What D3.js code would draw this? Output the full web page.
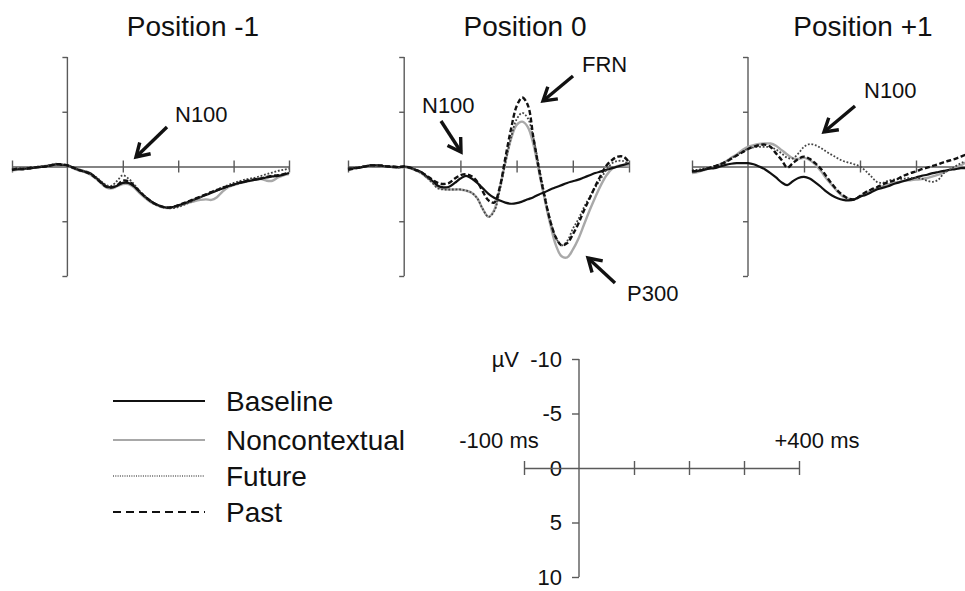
<!DOCTYPE html>
<html><head><meta charset="utf-8">
<script src="https://cdn.jsdelivr.net/npm/d3@7"></script>
<style>html,body{margin:0;padding:0;background:#fff;}svg{display:block;font-family:Arial,"Liberation Sans",sans-serif;}</style>
</head><body><svg id="c" width="965" height="591"></svg>
<script>
// ---- data (µV, negative plotted up) ----
const times = [-100,-90,-80,-70,-60,-50,-40,-30,-20,-10,0,10,20,30,40,50,60,70,80,90,100,110,120,130,140,150,160,170,180,190,200,210,220,230,240,250,260,270,280,290,300,310,320,330,340,350,360,370,380,390,400];
const seriesNames = ["Baseline","Noncontextual","Future","Past"];
const panelTitles = ["Position -1","Position 0","Position +1"];
const yTicks = [-10,-5,0,5,10];
const xTicks = [-100,100,200,300,400];

// Position -1
const baseline1 = [0.3,0.25,0.2,0.2,0.1,0.05,0,-0.1,-0.2,-0.15,-0.1,0.1,0.3,0.45,0.6,0.95,1.4,1.8,1.9,1.75,1.5,1.5,1.8,2.3,2.75,3.15,3.45,3.65,3.75,3.7,3.55,3.4,3.2,3.0,2.8,2.6,2.4,2.2,2.0,1.8,1.65,1.5,1.4,1.3,1.2,1.1,1.0,0.9,0.85,0.75,0.6];
const noncontextual1 = [0.35,0.3,0.2,0.15,0.1,0.0,-0.05,-0.1,-0.2,-0.15,-0.1,0.15,0.35,0.5,0.7,1.05,1.5,1.9,2.0,1.8,1.6,1.6,1.9,2.4,2.85,3.25,3.5,3.7,3.8,3.75,3.6,3.45,3.3,3.15,3.05,3.0,3.05,2.8,2.3,1.9,1.7,1.55,1.4,1.3,1.2,1.15,1.3,1.3,1.0,0.8,0.7];
const future1 = [0.25,0.2,0.2,0.1,0.05,0.0,-0.05,-0.15,-0.25,-0.2,-0.1,0.05,0.25,0.4,0.55,0.9,1.3,1.7,1.75,1.3,0.8,1.1,1.6,2.2,2.7,3.2,3.5,3.7,3.8,3.8,3.7,3.5,3.3,3.05,2.8,2.55,2.3,2.1,1.9,1.7,1.5,1.35,1.2,1.1,1.0,0.85,0.7,0.55,0.4,0.3,0.2];
const past1 = [0.3,0.2,0.25,0.15,0.1,0.05,0.0,-0.1,-0.2,-0.2,-0.1,0.1,0.3,0.45,0.65,1.0,1.45,1.85,1.9,1.7,1.3,1.35,1.75,2.25,2.75,3.15,3.45,3.65,3.75,3.7,3.55,3.35,3.15,2.95,2.75,2.55,2.35,2.15,1.95,1.8,1.65,1.5,1.35,1.25,1.15,1.1,0.95,0.85,0.8,0.7,0.55];

// Position 0
const baseline2 = [0.2,0.15,0.1,0.0,-0.1,-0.1,-0.05,0,0.05,0.05,0.0,0.1,0.3,0.5,0.9,1.3,1.75,1.9,1.85,1.5,1.1,0.85,1.1,1.5,2.0,2.5,2.85,3.1,3.3,3.4,3.35,3.2,3.0,2.8,2.55,2.35,2.1,1.9,1.7,1.5,1.35,1.2,1.0,0.8,0.6,0.45,0.3,0.15,0.0,-0.15,-0.3];
const noncontextual2 = [0.3,0.2,0.1,0.0,-0.05,-0.1,-0.05,0.0,0.05,0.1,0.05,0.15,0.35,0.6,1.0,1.4,1.9,2.05,2.1,2.1,2.1,2.2,2.4,2.9,3.9,4.6,4.0,2.0,-0.4,-2.5,-3.8,-4.1,-3.6,-2.0,0.5,3.0,5.3,7.2,8.2,8.3,7.6,6.6,5.3,4.0,2.8,1.7,0.8,0.2,-0.05,-0.1,0.0];
const future2 = [0.2,0.1,0.05,-0.05,-0.1,-0.1,-0.05,0.0,0.05,0.1,0.05,0.15,0.35,0.6,1.0,1.5,2.0,2.1,2.1,2.1,2.1,2.2,2.4,2.9,3.9,4.6,4.1,2.2,-0.3,-2.6,-4.3,-4.9,-4.4,-2.6,0.0,2.6,4.9,6.5,7.2,6.8,5.7,4.8,3.7,2.8,1.9,1.1,0.3,-0.3,-0.5,-0.5,-0.2];
const past2 = [0.3,0.2,0.1,0.0,-0.1,-0.1,-0.1,0.0,0.0,0.05,0.0,0.1,0.3,0.5,0.85,1.2,1.5,1.6,1.5,1.1,0.8,0.7,0.9,1.4,2.3,3.1,3.3,1.9,-0.8,-3.4,-5.5,-6.3,-5.6,-2.6,0.3,2.8,5.0,6.5,7.2,7.0,6.2,5.2,4.0,2.9,1.8,0.8,-0.1,-0.6,-0.9,-0.9,-0.4];

// Position +1
const baseline3 = [0.45,0.4,0.3,0.2,0.15,0.0,-0.15,-0.25,-0.3,-0.3,-0.3,-0.2,0.0,0.25,0.6,1.0,1.45,1.7,1.35,1.05,0.95,1.1,1.45,1.85,2.3,2.65,2.9,3.05,3.1,3.0,2.75,2.6,2.35,2.1,1.95,1.8,1.6,1.45,1.3,1.15,1.0,0.85,0.75,0.6,0.5,0.4,0.3,0.25,0.15,0.15,0.1];
const noncontextual3 = [0.6,0.5,0.35,0.2,0.0,-0.2,-0.45,-0.8,-1.1,-1.5,-1.8,-1.95,-2.05,-2.1,-2.1,-1.9,-1.5,-1.1,-0.75,-0.7,-0.8,-0.6,-0.2,0.4,1.1,1.7,2.3,2.75,2.95,3.0,2.75,2.4,2.2,2.0,1.8,1.65,1.5,1.4,1.3,1.25,1.2,1.15,1.05,0.9,0.75,0.55,0.3,0.1,-0.1,-0.4,-0.6];
const future3 = [0.3,0.3,0.2,0.1,-0.05,-0.2,-0.45,-0.75,-1.05,-1.35,-1.6,-1.75,-1.8,-1.8,-1.75,-1.55,-1.2,-0.8,-0.75,-1.2,-1.8,-2.05,-1.95,-1.7,-1.35,-1.05,-0.75,-0.5,-0.35,-0.2,0.0,0.4,0.9,1.4,1.5,1.3,1.2,1.15,1.1,1.05,1.05,1.1,1.3,1.4,1.2,0.6,0.3,0.0,-0.3,-0.5,-0.6];
const past3 = [0.45,0.4,0.3,0.15,0.0,-0.2,-0.4,-0.7,-1.0,-1.3,-1.6,-1.8,-1.95,-2.0,-1.8,-1.2,-0.6,0.1,-0.3,-0.7,-0.9,-0.7,-0.3,0.2,0.9,1.6,2.2,2.65,2.95,3.0,2.7,2.35,2.1,1.9,1.65,1.45,1.3,1.05,0.8,0.6,0.45,0.25,0.1,-0.05,-0.2,-0.4,-0.55,-0.7,-0.9,-1.1,-1.2];

const panelData = [
  [baseline1, noncontextual1, future1, past1],
  [baseline2, noncontextual2, future2, past2],
  [baseline3, noncontextual3, future3, past3]
];

// ---- styles ----
const AX = "#5a5a5a";
const styles = {
  "Baseline":      {stroke:"#111", width:2.2, dash:null},
  "Noncontextual": {stroke:"#a9a9a9", width:2.4, dash:null},
  "Future":        {stroke:"#444", width:1.8, dash:"1.8,1.8"},
  "Past":          {stroke:"#111", width:2.4, dash:"5,2.5"}
};

const svg = d3.select("#c");

// panel geometry
const panels = [
  {xr:[12,289], cx:193},
  {xr:[348,629], cx:525},
  {xr:[692,972], cx:863}
];
const yr = [57,276];

panels.forEach((p,i)=>{
  const x = d3.scaleLinear().domain([-100,400]).range(p.xr);
  const y = d3.scaleLinear().domain([-10,10]).range(yr);
  const g = svg.append("g");

  svg.append("text").attr("x",p.cx).attr("y",36).attr("text-anchor","middle")
    .attr("font-size",28).attr("fill","#111").text(panelTitles[i]);

  const ya = g.append("g").attr("transform",`translate(${x(0)},0)`)
    .call(d3.axisLeft(y).tickValues(yTicks).tickSize(5).tickFormat(""));
  ya.select(".domain").remove();
  ya.append("line").attr("x1",0).attr("x2",0).attr("y1",y(-10)).attr("y2",y(10));
  ya.selectAll("line").attr("stroke",AX).attr("stroke-width",1.4);
  ya.selectAll(".tick").filter(d=>d===0).remove();

  const xa = g.append("g").attr("transform",`translate(0,${y(0)})`)
    .call(d3.axisBottom(x).tickValues(xTicks).tickSize(0).tickFormat(""));
  xa.select(".domain").attr("stroke",AX).attr("stroke-width",1.4);
  xa.selectAll(".tick line").attr("y1",-6).attr("y2",6).attr("stroke",AX).attr("stroke-width",1.4);

  const line = d3.line().x((d,k)=>x(times[k])).y(d=>y(d)).curve(d3.curveCatmullRom.alpha(0.5));
  const order = [1,0,2,3];
  order.forEach(si=>{
    const st = styles[seriesNames[si]];
    g.append("path").datum(panelData[i][si]).attr("d",line)
      .attr("fill","none").attr("stroke",st.stroke).attr("stroke-width",st.width)
      .attr("stroke-dasharray",st.dash).attr("stroke-linejoin","round");
  });
});

// ---- annotations ----
const annLabels = [
  {text:"N100", x:175, y:122, tail:[167,127], head:[136,157]},
  {text:"N100", x:422, y:113, tail:[441,121], head:[461,152]},
  {text:"FRN",  x:582, y:72,  tail:[573,76], head:[543,101]},
  {text:"P300", x:627, y:301, tail:[615,283], head:[588,258]},
  {text:"N100", x:864, y:98,  tail:[855,106], head:[824,132]}
];
annLabels.forEach(a=>{
  svg.append("text").attr("x",a.x).attr("y",a.y).attr("font-size",22).attr("fill","#111").text(a.text);
  const [tx,ty]=a.tail,[hx,hy]=a.head;
  svg.append("line").attr("x1",tx).attr("y1",ty).attr("x2",hx).attr("y2",hy)
    .attr("stroke","#111").attr("stroke-width",3.4);
  const ang = Math.atan2(hy-ty,hx-tx), L=15, sp=0.55;
  const p1=[hx-L*Math.cos(ang-sp), hy-L*Math.sin(ang-sp)];
  const p2=[hx-L*Math.cos(ang+sp), hy-L*Math.sin(ang+sp)];
  svg.append("path").attr("d",`M${p1}L${hx},${hy}L${p2}`).attr("fill","none")
    .attr("stroke","#111").attr("stroke-width",3.4).attr("stroke-linejoin","miter");
});

// ---- legend ----
const legY = [401,440,476,512];
const legDash = {"Baseline":null,"Noncontextual":null,"Future":"1,1.3","Past":"8,5"};
seriesNames.forEach((n,i)=>{
  svg.append("line").attr("x1",113).attr("x2",205).attr("y1",legY[i]).attr("y2",legY[i])
    .attr("stroke", n==="Noncontextual" ? "#a8a8a8" : "#111")
    .attr("stroke-width", n==="Future"?1.2:(n==="Noncontextual"?2:1.8))
    .attr("stroke-dasharray",legDash[n]);
  svg.append("text").attr("x",226).attr("y",legY[i]+10).attr("font-size",28).attr("fill","#111").text(n);
});

// ---- scale bar axes ----
{
  const sx = d3.scaleLinear().domain([-100,400]).range([524,799]);
  const sy = d3.scaleLinear().domain([-10,10]).range([359,577]);
  const g = svg.append("g");
  const ya = g.append("g").attr("transform",`translate(${sx(0)},0)`)
    .call(d3.axisLeft(sy).tickValues(yTicks).tickSize(7).tickPadding(10).tickFormat(d=>d));
  ya.select(".domain").remove();
  ya.append("line").attr("x1",0).attr("x2",0).attr("y1",sy(-10)).attr("y2",sy(10));
  ya.selectAll("line").attr("stroke",AX).attr("stroke-width",1.4);
  ya.selectAll(".tick").filter(d=>d===0).select("line").remove();
  ya.selectAll("text").attr("font-size",22).attr("fill","#111").attr("font-family","Arial, 'Liberation Sans', sans-serif");
  const xa = g.append("g").attr("transform",`translate(0,${sy(0)})`)
    .call(d3.axisBottom(sx).tickValues(xTicks).tickSize(0).tickFormat(""));
  xa.select(".domain").attr("stroke",AX).attr("stroke-width",1.4);
  xa.selectAll(".tick line").attr("y1",-7).attr("y2",7).attr("stroke",AX).attr("stroke-width",1.4);
  svg.append("text").attr("x",519).attr("y",sy(-10)+8).attr("text-anchor","end").attr("font-size",22).attr("fill","#111").text("µV");
  svg.append("text").attr("x",499).attr("y",448).attr("text-anchor","middle").attr("font-size",22).attr("fill","#111").text("-100 ms");
  svg.append("text").attr("x",817).attr("y",448).attr("text-anchor","middle").attr("font-size",22).attr("fill","#111").text("+400 ms");
}
</script></body></html>
